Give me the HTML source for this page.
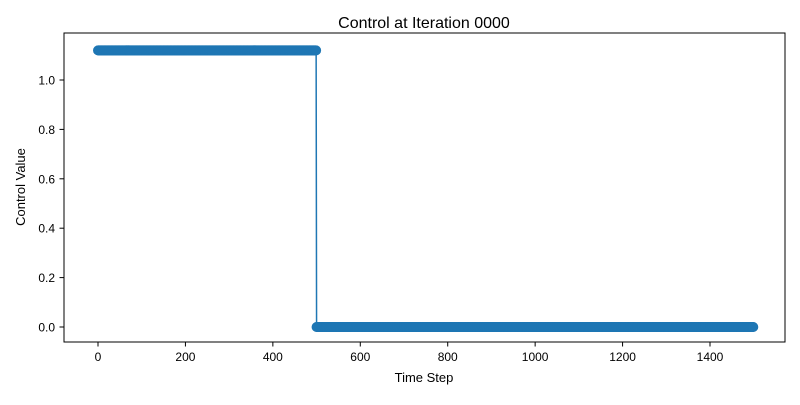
<!DOCTYPE html>
<html><head><meta charset="utf-8"><style>
body{margin:0;background:#fff;}
svg text{font-family:"Liberation Sans","DejaVu Sans",sans-serif;fill:#000;}
</style></head><body>
<svg id="chart" width="800" height="400" xmlns="http://www.w3.org/2000/svg">
<rect width="800" height="400" fill="#fff"/>
<text x="424" y="28" font-size="16" text-anchor="middle">Control at Iteration 0000</text>
<g id="marks"></g>
<rect x="64" y="33" width="721" height="309" fill="none" stroke="#000" stroke-width="1"/>
<g id="xticks"></g>
<g id="yticks"></g>
<text x="424" y="382" font-size="13" text-anchor="middle">Time Step</text>
<text x="25" y="187" font-size="13" text-anchor="middle" transform="rotate(-90 25 187)">Control Value</text>
</svg>
<script>
const segmentValues = [1.12, 0.0];
const segmentLengths = [500, 1000];
const xTickValues = [0, 200, 400, 600, 800, 1000, 1200, 1400];
const yTickValues = [0.0, 0.2, 0.4, 0.6, 0.8, 1.0];

const NS = "http://www.w3.org/2000/svg";
function xs(v){ return 98 + v * (710 - 98) / 1400; }
function ys(v){ return 327 - v * (327 - 80) / 1.0; }

const values = [];
segmentValues.forEach((v, i) => { for (let k = 0; k < segmentLengths[i]; k++) values.push(v); });

const marks = document.getElementById('marks');
const line = document.createElementNS(NS, 'polyline');
line.setAttribute('points', values.map((v, i) => xs(i) + ',' + ys(v)).join(' '));
line.setAttribute('fill', 'none');
line.setAttribute('stroke', '#1f77b4');
line.setAttribute('stroke-width', '1.5');


marks.appendChild(line);
values.forEach((v, i) => {
  const c = document.createElementNS(NS, 'circle');
  c.setAttribute('cx', xs(i));
  c.setAttribute('cy', ys(v));
  c.setAttribute('r', 5);
  c.setAttribute('fill', '#1f77b4');
  
  
  marks.appendChild(c);
});

const xg = document.getElementById('xticks');
xTickValues.forEach(v => {
  const t = document.createElementNS(NS, 'line');
  t.setAttribute('x1', xs(v)); t.setAttribute('x2', xs(v));
  t.setAttribute('y1', 342); t.setAttribute('y2', 346.5);
  t.setAttribute('stroke', '#000');
  
  
  xg.appendChild(t);
  const l = document.createElementNS(NS, 'text');
  l.setAttribute('x', xs(v)); l.setAttribute('y', 361);
  l.setAttribute('font-size', '12'); l.setAttribute('text-anchor', 'middle');
  l.textContent = v;
  
  
  xg.appendChild(l);
});
const yg = document.getElementById('yticks');
yTickValues.forEach(v => {
  const t = document.createElementNS(NS, 'line');
  t.setAttribute('x1', 59.5); t.setAttribute('x2', 64);
  t.setAttribute('y1', ys(v)); t.setAttribute('y2', ys(v));
  t.setAttribute('stroke', '#000');
  
  
  yg.appendChild(t);
  const l = document.createElementNS(NS, 'text');
  l.setAttribute('x', 55); l.setAttribute('y', ys(v) + 4.5);
  l.setAttribute('font-size', '12'); l.setAttribute('text-anchor', 'end');
  l.textContent = v.toFixed(1);
  
  
  yg.appendChild(l);
});
</script>
</body></html>
